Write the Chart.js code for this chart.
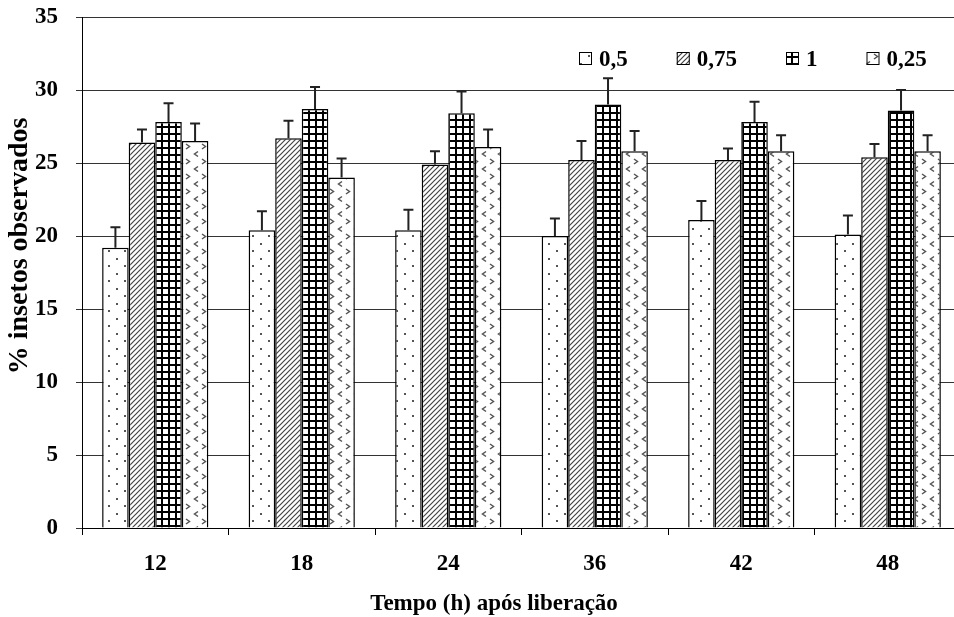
<!DOCTYPE html>
<html>
<head>
<meta charset="utf-8">
<script src="https://cdn.jsdelivr.net/npm/chart.js@4.4.0/dist/chart.umd.min.js"></script>
<style>
    body { margin: 0; background: #fff; overflow: hidden; }
    #quadro { width: 954px; height: 617px; overflow: hidden; }
    #grafico { display: block; }
</style>
</head>
<body>
<div id="quadro"><canvas id="grafico" width="962" height="617"></canvas></div>
<script>
// tempos de avaliação e médias por dose
const tempos = ["12", "18", "24", "36", "42", "48"];
const doses = ["0,5", "0,75", "1", "0,25"];

const media05 = [19.2, 20.4, 20.4, 20.0, 21.1, 20.1];
const media075 = [26.4, 26.7, 24.9, 25.2, 25.2, 25.4];
const media1 = [27.8, 28.7, 28.4, 29.0, 27.8, 28.6];
const media025 = [26.5, 24.0, 26.1, 25.8, 25.8, 25.8];

// desvio (só a parte de cima é desenhada)
const erro05 = [1.4, 1.3, 1.4, 1.2, 1.3, 1.3];
const erro075 = [0.9, 1.2, 0.9, 1.3, 0.8, 0.9];
const erro1 = [1.3, 1.5, 1.5, 1.8, 1.4, 1.4];
const erro025 = [1.2, 1.3, 1.2, 1.4, 1.1, 1.1];

const yTicks = [0, 5, 10, 15, 20, 25, 30, 35];

const tituloX = "Tempo (h) após liberação";
const tituloY = "% insetos observados";

const fonte = '"Liberation Serif", "Times New Roman", serif';

// texturas das barras
function tile(w, h, draw) {
    const c = document.createElement("canvas");
    c.width = w;
    c.height = h;
    const g = c.getContext("2d");
    g.fillStyle = "#fff";
    g.fillRect(0, 0, w, h);
    draw(g);
    return c.getContext("2d").createPattern(c, "repeat");
}

const padraoPontos = tile(16, 15, (g) => {
    g.fillStyle = "#555";
    g.fillRect(4, 3, 2, 2);
    g.fillRect(12, 10, 2, 2);
});

const padraoListras = tile(5, 5, (g) => {
    g.strokeStyle = "#444";
    g.lineWidth = 1.2;
    g.beginPath();
    g.moveTo(-1, 6);
    g.lineTo(6, -1);
    g.moveTo(-1, 1);
    g.lineTo(1, -1);
    g.moveTo(4, 6);
    g.lineTo(6, 4);
    g.stroke();
});

const padraoGrade = tile(7, 7, (g) => {
    g.fillStyle = "#000";
    g.fillRect(0, 0, 7, 2);
    g.fillRect(0, 0, 2, 7);
});

const padraoSetas = tile(16, 15, (g) => {
    g.strokeStyle = "#555";
    g.lineWidth = 1.5;
    g.beginPath();
    // "<"
    g.moveTo(6, 1.5);
    g.lineTo(2.5, 4);
    g.lineTo(6, 6.5);
    // ">"
    g.moveTo(10, 9);
    g.lineTo(13.5, 11.5);
    g.lineTo(10, 14);
    g.stroke();
});

const fundoBranco = {
    id: "fundoBranco",
    beforeDraw(chart) {
        const ctx = chart.ctx;
        ctx.save();
        ctx.fillStyle = "#fff";
        ctx.fillRect(0, 0, chart.width, chart.height);
        ctx.restore();
    },
};

// barras de erro para cima, com traço no topo
const barrasErro = {
    id: "barrasErro",
    afterDatasetsDraw(chart) {
        const ctx = chart.ctx;
        const y = chart.scales.y;
        ctx.save();
        ctx.strokeStyle = "#222";
        ctx.lineWidth = 2;
        chart.data.datasets.forEach((ds, i) => {
            chart.getDatasetMeta(i).data.forEach((bar, j) => {
                const topo = y.getPixelForValue(ds.data[j] + ds.erro[j]);
                ctx.beginPath();
                ctx.moveTo(bar.x, bar.y);
                ctx.lineTo(bar.x, topo);
                ctx.moveTo(bar.x - 5, topo);
                ctx.lineTo(bar.x + 5, topo);
                ctx.stroke();
            });
        });
        ctx.restore();
    },
};

// títulos dos eixos
const titulos = {
    id: "titulos",
    afterDraw(chart) {
        const ctx = chart.ctx;
        ctx.save();
        ctx.fillStyle = "#000";
        ctx.textAlign = "center";
        ctx.textBaseline = "middle";
        ctx.font = "bold 23px " + fonte;
        ctx.fillText(tituloX, 494, 604);
        ctx.translate(20, 246);
        ctx.rotate(-Math.PI / 2);
        ctx.font = "bold 28px " + fonte;
        ctx.fillText(tituloY, 0, 0);
        ctx.restore();
    },
};

// legenda dentro da área do gráfico, canto superior direito
const legenda = {
    id: "legenda",
    afterDraw(chart) {
        const ctx = chart.ctx;
        ctx.save();
        ctx.font = "bold 23px " + fonte;
        ctx.textBaseline = "middle";
        ctx.textAlign = "left";
        let x = 579;
        const yc = chart.chartArea.top + 42;
        chart.data.datasets.forEach((ds) => {
            ctx.fillStyle = ds.backgroundColor;
            ctx.fillRect(x, yc - 7, 13, 13);
            ctx.strokeStyle = "#000";
            ctx.lineWidth = 1;
            ctx.strokeRect(x + 0.5, yc - 6.5, 12, 12);
            x += 20;
            ctx.fillStyle = "#000";
            ctx.fillText(ds.label, x, yc + 1);
            x += ctx.measureText(ds.label).width + 49;
        });
        ctx.restore();
    },
};

const medias = [media05, media075, media1, media025];
const erros = [erro05, erro075, erro1, erro025];
const padroes = [padraoPontos, padraoListras, padraoGrade, padraoSetas];

const datasets = doses.map((dose, i) => ({
    label: dose,
    data: medias[i],
    erro: erros[i],
    backgroundColor: padroes[i],
    borderColor: "#000",
    borderWidth: 1.5,
    categoryPercentage: 0.725,
    barPercentage: 1,
}));

new Chart(document.getElementById("grafico"), {
    type: "bar",
    data: { labels: tempos, datasets: datasets },
    options: {
        responsive: false,
        animation: false,
        layout: { padding: { top: 17, right: 1, left: 0, bottom: 0 } },
        plugins: {
            legend: { display: false },
            tooltip: { enabled: false },
        },
        scales: {
            x: {
                grid: {
                    offset: true,
                    drawOnChartArea: false,
                    tickLength: 7,
                    color: "#000",
                },
                border: { color: "#000", width: 1 },
                ticks: {
                    color: "#000",
                    padding: 15,
                    font: { family: fonte, size: 23, weight: "bold" },
                },
                afterFit(scale) {
                    scale.height = 89;
                },
            },
            y: {
                min: 0,
                max: 35,
                afterBuildTicks(scale) {
                    scale.ticks = yTicks.map((v) => ({ value: v }));
                },
                grid: {
                    color: "#333",
                    lineWidth: 1,
                    tickLength: 6,
                },
                border: { color: "#000", width: 1 },
                ticks: {
                    color: "#000",
                    padding: 18,
                    font: { family: fonte, size: 23, weight: "bold" },
                },
                afterFit(scale) {
                    scale.width = 82;
                    scale.paddingTop = 0;
                },
            },
        },
    },
    plugins: [fundoBranco, barrasErro, titulos, legenda],
});
</script>
</body>
</html>
